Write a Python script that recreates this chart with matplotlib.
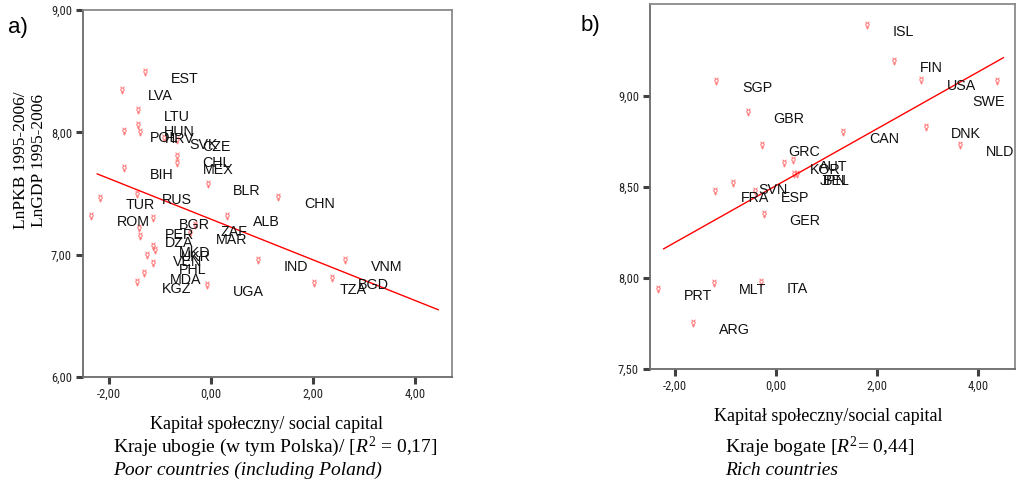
import matplotlib
matplotlib.use("Agg")
import matplotlib.pyplot as plt
from matplotlib import font_manager
from matplotlib.ticker import FuncFormatter, FixedLocator

# ---------------- data ----------------
poor_codes = ["EST", "LVA", "LTU", "HUN", "POL", "HRV", "SVK", "CZE", "CHL", "MEX",
              "BIH", "BLR", "CHN", "RUS", "TUR", "ROM", "BGR", "ALB", "ZAF", "PER",
              "MAR", "DZA", "MKD", "UKR", "VEN", "PHL", "MDA", "KGZ", "UGA", "IND",
              "TZA", "BGD", "VNM"]
poor_x = [-1.30, -1.74, -1.43, -1.43, -1.71, -1.40, -0.93, -0.67, -0.67, -0.67,
          -1.71, -0.07, 1.32, -1.46, -2.17, -2.35, -1.14, 0.31, -0.31, -1.41,
          -0.41, -1.40, -1.14, -1.10, -1.25, -1.14, -1.31, -1.46, -0.08, 0.92,
          2.02, 2.37, 2.62]
poor_y = [8.49, 8.35, 8.18, 8.06, 8.01, 8.00, 7.95, 7.94, 7.81, 7.75,
          7.71, 7.58, 7.47, 7.50, 7.46, 7.32, 7.30, 7.32, 7.24, 7.22,
          7.18, 7.15, 7.07, 7.04, 7.00, 6.93, 6.85, 6.78, 6.75, 6.96,
          6.77, 6.81, 6.96]
poor_fit_x = [-2.23, 4.45]
poor_fit_y = [7.66, 6.55]

rich_codes = ["ISL", "FIN", "USA", "SWE", "SGP", "GBR", "CAN", "DNK", "NLD", "GRC",
              "AUT", "KOR", "JPN", "BEL", "SVN", "FRA", "ESP", "GER", "PRT", "MLT",
              "ITA", "ARG"]
rich_x = [1.80, 2.34, 2.87, 4.37, -1.19, -0.56, 1.33, 2.96, 3.64, -0.28,
          0.34, 0.15, 0.36, 0.42, -0.86, -1.21, -0.42, -0.25, -2.34, -1.24,
          -0.30, -1.65]
rich_y = [9.39, 9.19, 9.09, 9.08, 9.08, 8.91, 8.80, 8.83, 8.73, 8.73,
          8.65, 8.63, 8.57, 8.57, 8.52, 8.48, 8.48, 8.35, 7.94, 7.97,
          7.98, 7.75]
rich_fit_x = [-2.23, 4.50]
rich_fit_y = [8.16, 9.21]

x_ticks = [-2, 0, 2, 4]
poor_y_ticks = [6, 7, 8, 9]
rich_y_ticks = [7.5, 8.0, 8.5, 9.0]

# ---------------- fonts ----------------
names = {f.name for f in font_manager.fontManager.ttflist}
tick_family = "Liberation Sans"
tick_size = 8.5
for cand in ["Liberation Sans Narrow", "Roboto Condensed", "DejaVu Sans Condensed",
             "Open Sans Condensed"]:
    if cand in names:
        tick_family = cand
        tick_size = 9.0
        break
sans = "Liberation Sans"
serif = "Liberation Serif"
plt.rcParams["mathtext.fontset"] = "custom"
plt.rcParams["mathtext.rm"] = "Liberation Serif"
plt.rcParams["mathtext.it"] = "Liberation Serif:italic"

fig = plt.figure(figsize=(10.16, 4.86), dpi=100)
W, H = 1016, 486

def axes_px(x0, x1, y0, y1):
    return fig.add_axes([x0 / W, 1 - y1 / H, (x1 - x0) / W, (y1 - y0) / H])

ax1 = axes_px(83, 452, 10, 377)
ax2 = axes_px(650, 1015, 4, 369)

fmt = FuncFormatter(lambda v, p: f"{v:.2f}".replace(".", ","))

def style(ax, xlim, ylim, yticks):
    ax.set_xlim(*xlim)
    ax.set_ylim(*ylim)
    ax.xaxis.set_major_locator(FixedLocator(x_ticks))
    ax.yaxis.set_major_locator(FixedLocator(yticks))
    ax.xaxis.set_major_formatter(fmt)
    ax.yaxis.set_major_formatter(fmt)
    for s in ax.spines.values():
        s.set_color("#8a8a8a")
        s.set_linewidth(1.3)
    ax.spines["left"].set_color("#6a6a6a")
    ax.spines["bottom"].set_color("#6a6a6a")
    ax.tick_params(direction="out", length=5, width=2.2, color="#404040",
                   labelsize=tick_size, labelcolor="#222222", pad=3)
    for lab in ax.get_xticklabels() + ax.get_yticklabels():
        lab.set_fontfamily(tick_family)

style(ax1, (-2.51, 4.72), (6.0, 9.0), poor_y_ticks)
style(ax2, (-2.50, 4.73), (7.5, 9.505), rich_y_ticks)

marker = "$\u263f$"

def draw(ax, xs, ys, codes, fx, fy):
    ax.scatter(xs, ys, marker=marker, s=28, color="#ff6b6b", linewidths=0.3, alpha=0.85, zorder=2)
    ax.plot(fx, fy, color="#ff0000", lw=1.0, zorder=3)
    texts = []
    for x, y, c in zip(xs, ys, codes):
        t = ax.annotate(c, (x, y), xytext=(18.5, -5), textcoords="offset points",
                        ha="left", va="center", fontsize=10.3, family=sans,
                        color="#111111", zorder=4)
        texts.append(t)
    return texts

t1 = draw(ax1, poor_x, poor_y, poor_codes, poor_fit_x, poor_fit_y)
t2 = draw(ax2, rich_x, rich_y, rich_codes, rich_fit_x, rich_fit_y)

# keep labels inside the frame (shift left and down if they overflow)
fig.canvas.draw()
r = fig.canvas.get_renderer()
for ax, texts in ((ax1, t1), (ax2, t2)):
    abox = ax.get_window_extent(r)
    for t in texts:
        b = t.get_window_extent(r)
        if b.x1 > abox.x1:
            dx = (b.x1 - abox.x1 + 10) * 72 / fig.dpi
            ox, oy = t.xyann
            t.xyann = (ox - dx, oy - 10)

# axis labels and captions
fig.text(30 / W, 1 - 160 / H, "LnPKB 1995-2006/\nLnGDP 1995-2006", rotation=90,
         ha="center", va="center", family=serif, fontsize=12.5, linespacing=1.1)

fig.text(18 / W, 1 - 27 / H, "a)", ha="center", va="center", family=sans, fontsize=16)
fig.text(590 / W, 1 - 26 / H, "b)", ha="center", va="center", family=sans, fontsize=16)

fig.text(267 / W, 1 - 424 / H, "Kapitał społeczny/ social capital", ha="center", va="center",
         family=serif, fontsize=13)
fig.text(113 / W, 1 - 447 / H, r"Kraje ubogie (w tym Polska)/ [$R^2$ = 0,17]", ha="left",
         va="center", family=serif, fontsize=14)
fig.text(113 / W, 1 - 470 / H, "Poor countries (including Poland)", ha="left", va="center",
         family=serif, style="italic", fontsize=14)

fig.text(828 / W, 1 - 416 / H, "Kapitał społeczny/social capital", ha="center", va="center",
         family=serif, fontsize=13)
fig.text(725 / W, 1 - 447 / H, r"Kraje bogate [$R^2$= 0,44]", ha="left", va="center",
         family=serif, fontsize=14)
fig.text(725 / W, 1 - 470 / H, "Rich countries", ha="left", va="center",
         family=serif, style="italic", fontsize=14)

fig.savefig("out.png", dpi=100)
